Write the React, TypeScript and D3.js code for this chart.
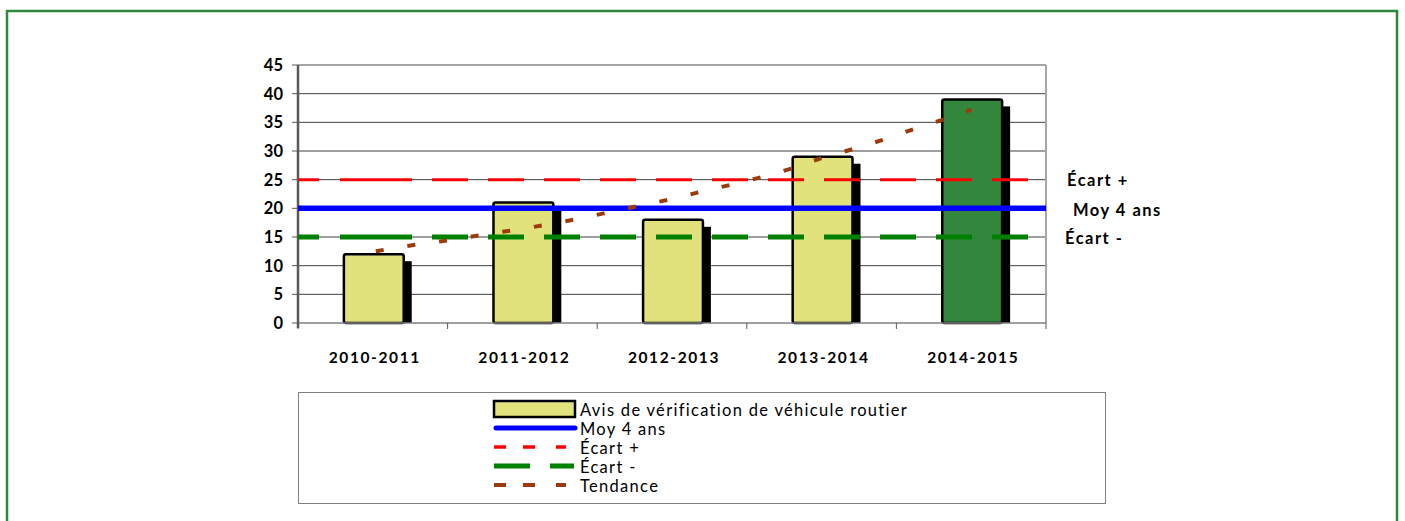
import React from 'react'
import * as d3 from 'd3'

// données
const seasons = ['2010-2011', '2011-2012', '2012-2013', '2013-2014', '2014-2015']
const avisValues = [12, 21, 18, 29, 39]
const barFills = ['#e1e27b', '#e1e27b', '#e1e27b', '#e1e27b', '#32873d']
const moyValue = 20
const ecartPlusValue = 25
const ecartMoinsValue = 15
// tendance, un point tous les 1/5 de catégorie (du centre 2010-2011 au centre 2014-2015)
const trendValues = [12.5, 13.4, 14.1, 14.9, 15.7, 16.5, 17.4, 18.4, 19.5, 20.6, 21.7,
  23.0, 24.2, 25.5, 27.0, 28.8, 30.3, 31.9, 33.7, 35.4, 37.2]
const yTicks = [0, 5, 10, 15, 20, 25, 30, 35, 40, 45]
const sideLabels = ['Écart +', 'Moy 4 ans', 'Écart -']
const legendLabels = ['Avis de vérification de véhicule routier', 'Moy 4 ans', 'Écart +', 'Écart -', 'Tendance']

const font = "Lato, 'Open Sans', sans-serif"

export default function App() {
  const width = 1405
  const height = 521
  const margin = {top: 65, left: 298, right: 1046, bottom: 323}

  const x = d3.scaleBand()
    .domain(seasons)
    .range([margin.left, margin.right])
  const y = d3.scaleLinear()
    .domain([0, 45])
    .range([margin.bottom, margin.top])

  const barW = x.bandwidth() * 0.4
  const center = (i) => x(seasons[i]) + x.bandwidth() / 2

  const xTrend = d3.scaleLinear().domain([0, trendValues.length - 1]).range([center(0) + 3, center(seasons.length - 1)])
  const trendLine = d3.line()
    .x((d, i) => xTrend(i))
    .y(d => y(d))
    .curve(d3.curveMonotoneX)

  // motif des tirets comme dans Excel
  let dashes = '21 21 72 20'
  for (let k = 0; k < 14; k++) dashes += ' 36 20'

  const legendX = 494
  const legendY = [409, 428, 447, 466, 485]

  return (
    <svg width={width} height={height} style={{position: 'absolute', left: 0, top: 0, background: '#fff'}}>
      <path d={`M7,${height} V11 H1397 V${height}`} fill="none" stroke="#31873d" strokeWidth={2.5} />

      {/* grille */}
      {yTicks.slice(1, -1).map(t => (
        <line key={t} x1={margin.left} x2={margin.right} y1={y(t)} y2={y(t)} stroke="#404040" strokeWidth={1} />
      ))}
      <line x1={margin.left} x2={margin.right} y1={y(45)} y2={y(45)} stroke="#a6a6a6" strokeWidth={2} />
      <line x1={margin.right} x2={margin.right} y1={y(45)} y2={y(0)} stroke="#a6a6a6" strokeWidth={2} />

      {/* barres avec ombre */}
      {avisValues.map((v, i) => {
        const bx = center(i) - barW / 2 + 1
        return (
          <g key={seasons[i]}>
            <rect x={bx + 8} y={y(v) + 7} width={barW} height={y(0) - y(v) - 7} fill="#000" />
            <rect x={bx} y={y(v)} width={barW} height={y(0) - y(v)} rx={2}
              fill={barFills[i]} stroke="#000" strokeWidth={2.5} />
          </g>
        )
      })}

      {/* axes */}
      <line x1={margin.left} x2={margin.right} y1={y(0)} y2={y(0)} stroke="#808080" strokeWidth={1.5} />
      <line x1={margin.left} x2={margin.left} y1={y(45)} y2={y(0) + 5} stroke="#595959" strokeWidth={2.5} />
      {yTicks.map(t => (
        <g key={t}>
          <line x1={margin.left - 6} x2={margin.left} y1={y(t)} y2={y(t)} stroke="#595959" strokeWidth={1} />
          <text x={283} y={y(t)} dy="0.36em" textAnchor="end" fontFamily={font} fontWeight="bold" fontSize={16.5}>{t}</text>
        </g>
      ))}
      {d3.range(seasons.length + 1).map(i => {
        const tx = i < seasons.length ? x(seasons[i]) : margin.right
        return <line key={i} x1={tx} x2={tx} y1={y(0)} y2={y(0) + 6} stroke="#595959" strokeWidth={1} />
      })}
      {seasons.map((s, i) => (
        <text key={s} x={center(i) + 2} y={363} textAnchor="middle" fontFamily={font} fontWeight="bold"
          fontSize={15.5} letterSpacing={1.6}>{s}</text>
      ))}

      {/* lignes de référence */}
      <line x1={margin.left} x2={margin.right} y1={y(moyValue)} y2={y(moyValue)} stroke="#0000ff" strokeWidth={5.5} />
      <line x1={margin.left} x2={margin.right} y1={y(ecartPlusValue)} y2={y(ecartPlusValue)} stroke="#ff0000"
        strokeWidth={3} strokeDasharray={dashes} />
      <line x1={margin.left} x2={margin.right} y1={y(ecartMoinsValue)} y2={y(ecartMoinsValue)} stroke="#008000"
        strokeWidth={5} strokeDasharray={dashes} />

      {/* tendance */}
      <path d={trendLine(trendValues)} fill="none" stroke="#9c3a0c" strokeWidth={4} strokeDasharray="8 24" />

      {/* étiquettes à droite */}
      {[ecartPlusValue, moyValue, ecartMoinsValue].map((v, i) => (
        <text key={i} x={[1067, 1073, 1065][i]} y={y(v) + [6, 8, 7][i]} fontFamily={font} fontWeight="bold"
          fontSize={16.5} letterSpacing={1.5}>{sideLabels[i]}</text>
      ))}

      {/* légende */}
      <rect x={298.5} y={392.5} width={807} height={111} fill="none" stroke="#808080" strokeWidth={1} />
      <rect x={legendX} y={401} width={81} height={16} fill={barFills[0]} stroke="#000" strokeWidth={2.5} />
      <line x1={legendX + 2} x2={legendX + 81} y1={legendY[1]} y2={legendY[1]} stroke="#0000ff" strokeWidth={5} strokeLinecap="round" />
      <line x1={legendX} x2={legendX + 82} y1={legendY[2]} y2={legendY[2]} stroke="#ff0000" strokeWidth={3.5} strokeDasharray="12 17 12 21 10 20" />
      <line x1={legendX} x2={legendX + 80} y1={legendY[3]} y2={legendY[3]} stroke="#008000" strokeWidth={5} strokeDasharray="36 20 24 20" />
      <line x1={legendX} x2={legendX + 82} y1={legendY[4]} y2={legendY[4]} stroke="#9c3a0c" strokeWidth={4} strokeDasharray="12 17 12 21 10 20" />
      {legendLabels.map((l, i) => (
        <text key={l} x={580} y={legendY[i] + 7} fontFamily={font} fontSize={16.5} letterSpacing={1.3}>{l}</text>
      ))}
    </svg>
  )
}
